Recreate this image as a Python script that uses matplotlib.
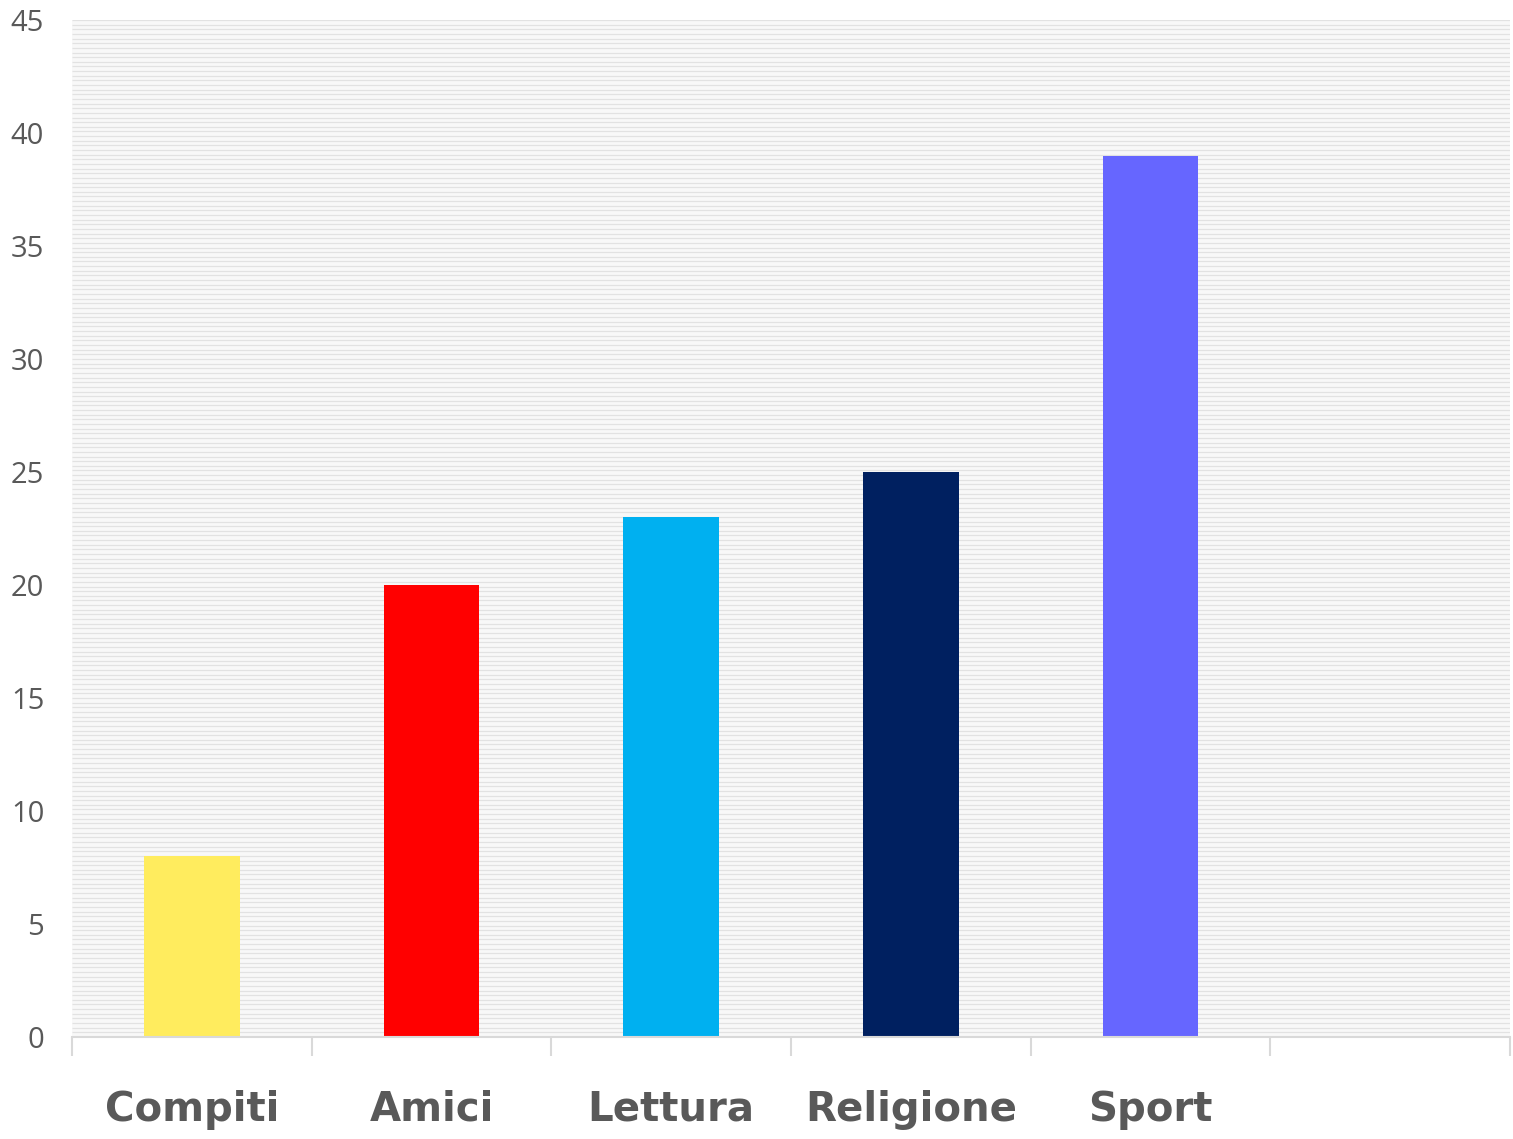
import numpy as np
import matplotlib.pyplot as plt
from matplotlib.collections import LineCollection

# survey results
categories = ['Compiti', 'Amici', 'Lettura', 'Religione', 'Sport']
values = [8, 20, 23, 25, 39]
colors = ['#FFEC5E', '#FF0000', '#00B0F0', '#002060', '#6666FF']
n_slots = 6  # one empty slot on the right
yticks = list(range(0, 46, 5))

fig = plt.figure(figsize=(15.13, 11.39), dpi=100)
ax = fig.add_axes([72 / 1513, 102 / 1139, 1438 / 1513, 1017 / 1139])
ax.set_facecolor('#f8f8f8')

# fine horizontal stripes behind the bars
ys = np.linspace(0, 1, 220)
segs = [[(0, y), (1, y)] for y in ys]
stripes = LineCollection(segs, colors='#e2e2e2', linewidths=0.9,
                         transform=ax.transAxes, zorder=0)
ax.add_collection(stripes)

x = list(range(len(categories)))
ax.bar(x, values, width=0.4, color=colors, zorder=2)

ax.set_xlim(-0.5, n_slots - 0.5)
ax.set_ylim(0, 45)

for side in ['top', 'right', 'left']:
    ax.spines[side].set_visible(False)
ax.spines['bottom'].set_color('#d9d9d9')
ax.spines['bottom'].set_linewidth(1.5)

ax.set_yticks(yticks)
ax.set_yticklabels([str(v) for v in yticks], fontsize=21, color='#595959',
                   family='Open Sans')
ax.tick_params(axis='y', length=0, pad=20)

# category labels centered, ticks between slots
ax.set_xticks(x)
ax.set_xticklabels(categories, fontsize=29, fontweight='bold',
                   color='#595959', family='DejaVu Sans')
ax.tick_params(axis='x', which='major', length=0, pad=38)
ax.set_xticks([i - 0.5 for i in range(n_slots + 1)], minor=True)
ax.tick_params(axis='x', which='minor', length=14, width=1.5, color='#d9d9d9')

fig.savefig('out.png', dpi=100)
